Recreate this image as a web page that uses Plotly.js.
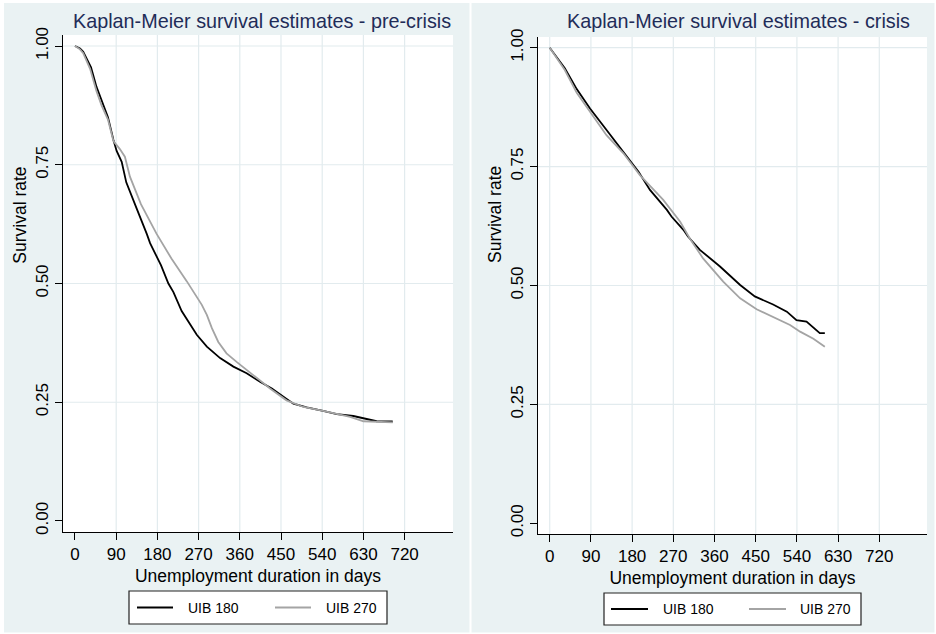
<!DOCTYPE html>
<html>
<head>
<meta charset="utf-8">
<script src="https://cdn.plot.ly/plotly-3.0.1.min.js"></script>
<style>
html, body { margin: 0; padding: 0; background: #ffffff; }
#chart { width: 936px; height: 634px; }
</style>
</head>
<body>
<div id="chart"></div>
<script>
// ---------------- data ----------------
const panelTitles = ['Kaplan-Meier survival estimates - pre-crisis', 'Kaplan-Meier survival estimates - crisis'];
const seriesNames = ['UIB 180', 'UIB 270'];
const xTitle = 'Unemployment duration in days';
const yTitle = 'Survival rate';

const xTicks = [0, 90, 180, 270, 360, 450, 540, 630, 720];
const yTicks = [0, 0.25, 0.5, 0.75, 1];
const yTickText = ['0.00', '0.25', '0.50', '0.75', '1.00'];

// pre-crisis, UIB 180
const preDays180 = [0, 11, 18, 35, 47, 55, 58, 72, 84, 91, 102, 112, 135, 142, 157, 164, 188, 204, 215, 233, 247, 266, 288, 317, 346, 375, 404, 430, 477, 506, 542, 572, 608, 630, 659, 694];
const preSurv180 = [1.000, 0.995, 0.988, 0.955, 0.914, 0.894, 0.883, 0.850, 0.802, 0.779, 0.756, 0.713, 0.657, 0.641, 0.604, 0.585, 0.538, 0.500, 0.482, 0.442, 0.421, 0.392, 0.367, 0.343, 0.325, 0.311, 0.293, 0.279, 0.247, 0.239, 0.232, 0.225, 0.221, 0.216, 0.210, 0.2095];

// pre-crisis, UIB 270
const preDays270 = [0, 11, 18, 33, 47, 58, 72, 84, 98, 109, 120, 144, 178, 211, 244, 262, 277, 288, 299, 313, 331, 353, 375, 404, 426, 462, 499, 542, 572, 601, 630, 694];
const preSurv270 = [1.000, 0.993, 0.985, 0.952, 0.905, 0.875, 0.845, 0.800, 0.783, 0.767, 0.725, 0.667, 0.605, 0.552, 0.505, 0.479, 0.455, 0.434, 0.406, 0.377, 0.353, 0.335, 0.318, 0.297, 0.279, 0.254, 0.240, 0.232, 0.226, 0.219, 0.210, 0.2075];

// crisis, UIB 180
const criDays180 = [0, 33, 59, 88, 125, 160, 194, 219, 256, 266, 292, 302, 328, 372, 416, 448, 488, 518, 539, 561, 583, 590, 601];
const criSurv180 = [1.000, 0.957, 0.913, 0.872, 0.826, 0.782, 0.739, 0.701, 0.659, 0.645, 0.617, 0.603, 0.575, 0.540, 0.501, 0.477, 0.460, 0.445, 0.427, 0.424, 0.406, 0.400, 0.400];

// crisis, UIB 270
const criDays270 = [0, 33, 59, 88, 124, 161, 197, 248, 285, 306, 335, 379, 416, 452, 488, 525, 547, 576, 601];
const criSurv270 = [1.000, 0.953, 0.905, 0.865, 0.816, 0.778, 0.732, 0.680, 0.634, 0.599, 0.557, 0.508, 0.473, 0.450, 0.434, 0.417, 0.403, 0.388, 0.371];

// ---------------- styling / layout ----------------
const W = 936, H = 634;
const fx = px => px / W;
const fy = py => 1 - py / H;

const FONT = 'Liberation Sans, Arial, sans-serif';
const PANEL_BG = '#EAF2F3';
const GRID = '#E2EBEE';
const TITLE_COL = '#1f2c58';
const BLACK = '#000000';
const GRAY = '#a4a4a4';
const LW = 1.8;

function line(x, y, name, color, xa, ya) {
  return { type: 'scatter', mode: 'lines', x: x, y: y, name: name, xaxis: xa, yaxis: ya,
           line: { color: color, width: LW }, showlegend: false, hoverinfo: 'x+y+name' };
}

const traces = [
  line(preDays180, preSurv180, seriesNames[0], BLACK, 'x', 'y'),
  line(preDays270, preSurv270, seriesNames[1], GRAY, 'x', 'y'),
  line(criDays180, criSurv180, seriesNames[0], BLACK, 'x2', 'y2'),
  line(criDays270, criSurv270, seriesNames[1], GRAY, 'x2', 'y2')
];

function xAxis(domain, range, anchor) {
  return {
    domain: domain, range: range, anchor: anchor,
    tickmode: 'array', tickvals: xTicks, ticktext: xTicks.map(String),
    ticks: 'outside', ticklen: 7, tickwidth: 1, tickcolor: BLACK,
    showline: true, linecolor: BLACK, linewidth: 1,
    showgrid: false, zeroline: false,
    tickfont: { family: FONT, size: 17, color: BLACK },
    title: { text: xTitle, font: { family: FONT, size: 17.5, color: BLACK }, standoff: 6 },
    fixedrange: true
  };
}
function yAxis(domain, range, anchor) {
  return {
    domain: domain, range: range, anchor: anchor,
    tickmode: 'array', tickvals: yTicks, ticktext: yTickText, tickangle: -90,
    ticks: 'outside', ticklen: 7, tickwidth: 1, tickcolor: BLACK,
    showline: true, linecolor: BLACK, linewidth: 1,
    showgrid: false, zeroline: false,
    tickfont: { family: FONT, size: 17, color: BLACK },
    fixedrange: true
  };
}

// grid lines follow the tick arrays (Stata omits those lying next to the axes)
const shapes = [];
function gridX(xref, yref, vals) {
  vals.forEach(v => shapes.push({ type: 'line', xref: xref, yref: yref + ' domain', x0: v, x1: v, y0: 0, y1: 1,
    layer: 'below', line: { color: GRID, width: 1.2 } }));
}
function gridY(xref, yref, vals) {
  vals.forEach(v => shapes.push({ type: 'line', xref: xref + ' domain', yref: yref, x0: 0, x1: 1, y0: v, y1: v,
    layer: 'below', line: { color: GRID, width: 1.2 } }));
}
gridX('x', 'y', xTicks.filter(v => v > 0));
gridY('x', 'y', yTicks.filter(v => v > 0));
gridX('x2', 'y2', xTicks);
gridY('x2', 'y2', yTicks.filter(v => v > 0));

// white frame strips around / between the two Stata graph regions
[[0, 0, W, 3], [0, 0, 4, H], [469.5, 0, 471.5, H], [934.5, 0, W, H], [0, 632.5, W, H]].forEach(r => {
  shapes.push({ type: 'rect', xref: 'paper', yref: 'paper', x0: fx(r[0]), x1: fx(r[2]), y0: fy(r[3]), y1: fy(r[1]),
    layer: 'above', line: { width: 0 }, fillcolor: '#ffffff' });
});

const annotations = [];
// legends (one per panel)
function legend(box, l1, t1, l2, t2, ly) {
  shapes.push({ type: 'rect', xref: 'paper', yref: 'paper', x0: fx(box[0]), x1: fx(box[2]), y0: fy(box[3]), y1: fy(box[1]),
    layer: 'above', fillcolor: '#ffffff', line: { color: '#222222', width: 1.2 } });
  shapes.push({ type: 'line', xref: 'paper', yref: 'paper', x0: fx(l1[0]), x1: fx(l1[1]), y0: fy(ly), y1: fy(ly),
    layer: 'above', line: { color: BLACK, width: LW } });
  shapes.push({ type: 'line', xref: 'paper', yref: 'paper', x0: fx(l2[0]), x1: fx(l2[1]), y0: fy(ly), y1: fy(ly),
    layer: 'above', line: { color: GRAY, width: LW } });
  annotations.push({ xref: 'paper', yref: 'paper', x: fx(t1), y: fy(ly), xanchor: 'left', yanchor: 'middle',
    text: seriesNames[0], showarrow: false, font: { family: FONT, size: 14, color: BLACK } });
  annotations.push({ xref: 'paper', yref: 'paper', x: fx(t2), y: fy(ly), xanchor: 'left', yanchor: 'middle',
    text: seriesNames[1], showarrow: false, font: { family: FONT, size: 14, color: BLACK } });
}
legend([129, 591, 387, 624], [137, 173], 186, [275, 311], 324, 607.5);
legend([604, 593, 861, 625], [611, 648], 661, [749, 786], 798, 609);

// panel titles
annotations.push({ xref: 'paper', yref: 'paper', x: fx(261.7), y: fy(21), xanchor: 'center', yanchor: 'middle',
  text: panelTitles[0], showarrow: false, font: { family: FONT, size: 19.8, color: TITLE_COL } });
annotations.push({ xref: 'paper', yref: 'paper', x: fx(738.7), y: fy(21), xanchor: 'center', yanchor: 'middle',
  text: panelTitles[1], showarrow: false, font: { family: FONT, size: 19.8, color: TITLE_COL } });
// y-axis titles (Stata places them above the plot centre)
annotations.push({ xref: 'paper', yref: 'paper', x: fx(19.7), y: fy(215), xanchor: 'center', yanchor: 'middle',
  text: yTitle, textangle: -90, showarrow: false, font: { family: FONT, size: 17.5, color: BLACK } });
annotations.push({ xref: 'paper', yref: 'paper', x: fx(495), y: fy(215), xanchor: 'center', yanchor: 'middle',
  text: yTitle, textangle: -90, showarrow: false, font: { family: FONT, size: 17.5, color: BLACK } });

const layout = {
  width: W, height: H,
  margin: { l: 0, r: 0, t: 0, b: 0, pad: 0 },
  paper_bgcolor: PANEL_BG, plot_bgcolor: '#ffffff',
  font: { family: FONT, color: BLACK },
  showlegend: false,
  xaxis: xAxis([fx(63), fx(453)], [-26.2, 825.7], 'y'),
  yaxis: yAxis([fy(532), fy(35)], [-0.0232, 1.0232], 'x'),
  xaxis2: xAxis([fx(538), fx(927)], [-25.6, 824.2], 'y2'),
  yaxis2: yAxis([fy(534), fy(37)], [-0.0225, 1.0225], 'x2'),
  shapes: shapes,
  annotations: annotations
};

Plotly.newPlot('chart', traces, layout, { displayModeBar: false, staticPlot: true });
</script>
</body>
</html>
